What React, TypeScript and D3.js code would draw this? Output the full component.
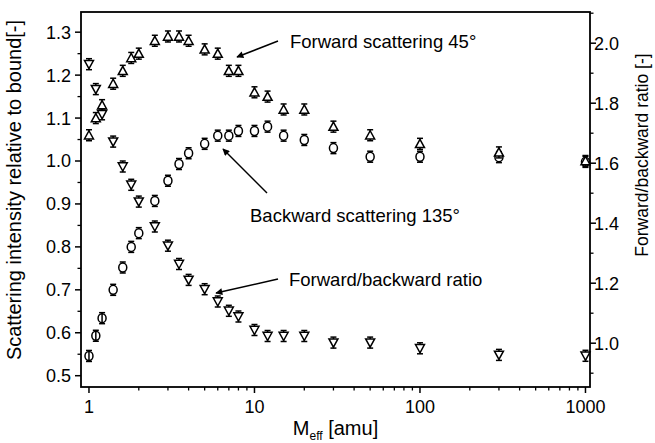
import { useRef, useEffect } from "react";
import * as d3 from "d3";

// effective mass [amu]
const masses = [1, 1.1, 1.2, 1.4, 1.6, 1.8, 2, 2.5, 3, 3.5, 4, 5, 6, 7, 8, 10, 12, 15, 20, 30, 50, 100, 300, 1000];
// forward scattering 45 deg (left axis)
const forward45 = [1.06, 1.10, 1.13, 1.18, 1.21, 1.24, 1.25, 1.28, 1.29, 1.29, 1.28, 1.26, 1.25, 1.21, 1.21, 1.16, 1.15, 1.12, 1.12, 1.08, 1.06, 1.04, 1.02, 1.0];
// backward scattering 135 deg (left axis)
const backward135 = [0.546, 0.593, 0.634, 0.70, 0.752, 0.80, 0.832, 0.907, 0.954, 0.993, 1.018, 1.04, 1.059, 1.059, 1.07, 1.07, 1.08, 1.059, 1.049, 1.03, 1.01, 1.01, 1.009, 0.998];
// forward/backward ratio (right axis)
const ratio = [1.93, 1.847, 1.763, 1.672, 1.589, 1.528, 1.472, 1.389, 1.325, 1.264, 1.211, 1.18, 1.139, 1.108, 1.089, 1.044, 1.024, 1.024, 1.024, 1.002, 1.002, 0.983, 0.961, 0.958];

const xTicks = [1, 10, 100, 1000];
const leftTicks = [0.5, 0.6, 0.7, 0.8, 0.9, 1.0, 1.1, 1.2, 1.3];
const rightTicks = [1.0, 1.2, 1.4, 1.6, 1.8, 2.0];

const annotations = [
  { text: "Forward scattering 45°", tx: 290, ty: 48, from: [278, 41], to: [237, 57] },
  { text: "Backward scattering 135°", tx: 250, ty: 221.5, from: [267, 193], to: [223, 149] },
  { text: "Forward/backward ratio", tx: 289, ty: 286, from: [278, 279], to: [216, 293] },
];

const FONT = "'Liberation Sans', Arial, sans-serif";

export default function App() {
  const svgRef = useRef<SVGSVGElement>(null);

  useEffect(() => {
    const width = 655;
    const height = 443;
    const plot = { left: 81, right: 590, top: 12, bottom: 387 };

    const svg = d3.select(svgRef.current)
      .attr("width", width)
      .attr("height", height)
      .style("position", "absolute")
      .style("left", 0)
      .style("top", 0)
      .style("background", "#fff")
      .style("font-family", FONT);
    svg.selectAll("*").remove();

    const x = d3.scaleLog().domain([0.895, 1065]).range([plot.left, plot.right]);
    const yL = d3.scaleLinear().domain([0.4737, 1.347]).range([plot.bottom, plot.top]);
    const yR = d3.scaleLinear().domain([0.854, 2.104]).range([plot.bottom, plot.top]);

    svg.append("defs").append("marker")
      .attr("id", "head")
      .attr("viewBox", "0 0 10 10")
      .attr("refX", 9).attr("refY", 5)
      .attr("markerWidth", 10).attr("markerHeight", 7)
      .attr("markerUnits", "userSpaceOnUse")
      .attr("orient", "auto")
      .append("path").attr("d", "M0,0 L10,5 L0,10 z").attr("fill", "#000");

    // frame
    svg.append("rect")
      .attr("x", plot.left).attr("y", plot.top)
      .attr("width", plot.right - plot.left).attr("height", plot.bottom - plot.top)
      .attr("fill", "none").attr("stroke", "#000").attr("stroke-width", 1.8);

    // bottom axis
    const minorX: number[] = [];
    for (let d = 1; d <= 1000; d *= 10) for (let k = 2; k <= 9; k++) if (d * k < 1065) minorX.push(d * k);
    svg.append("g").selectAll("line").data(minorX).join("line")
      .attr("x1", d => x(d)).attr("x2", d => x(d))
      .attr("y1", plot.bottom).attr("y2", plot.bottom + 3.5)
      .attr("stroke", "#000").attr("stroke-width", 1.3);
    svg.append("g").selectAll("line").data(xTicks).join("line")
      .attr("x1", d => x(d)).attr("x2", d => x(d))
      .attr("y1", plot.bottom).attr("y2", plot.bottom + 6)
      .attr("stroke", "#000").attr("stroke-width", 1.5);
    svg.append("g").selectAll("text").data(xTicks).join("text")
      .attr("x", d => x(d)).attr("y", 413)
      .attr("text-anchor", "middle").attr("font-size", 18)
      .text(d => String(d));

    // left axis
    const minorL = d3.range(0.55, 1.35, 0.1);
    svg.append("g").selectAll("line").data(minorL).join("line")
      .attr("x1", plot.left - 3.5).attr("x2", plot.left)
      .attr("y1", d => yL(d)).attr("y2", d => yL(d))
      .attr("stroke", "#000").attr("stroke-width", 1.3);
    svg.append("g").selectAll("line").data(leftTicks).join("line")
      .attr("x1", plot.left - 6).attr("x2", plot.left)
      .attr("y1", d => yL(d)).attr("y2", d => yL(d))
      .attr("stroke", "#000").attr("stroke-width", 1.5);
    svg.append("g").selectAll("text").data(leftTicks).join("text")
      .attr("x", 71).attr("y", d => yL(d)).attr("dy", "0.36em")
      .attr("text-anchor", "end").attr("font-size", 18)
      .text(d => d.toFixed(1));

    // right axis
    const minorR = d3.range(0.9, 2.1, 0.2);
    svg.append("g").selectAll("line").data(minorR).join("line")
      .attr("x1", plot.right).attr("x2", plot.right + 3.5)
      .attr("y1", d => yR(d)).attr("y2", d => yR(d))
      .attr("stroke", "#000").attr("stroke-width", 1.3);
    svg.append("g").selectAll("line").data(rightTicks).join("line")
      .attr("x1", plot.right).attr("x2", plot.right + 6)
      .attr("y1", d => yR(d)).attr("y2", d => yR(d))
      .attr("stroke", "#000").attr("stroke-width", 1.5);
    svg.append("g").selectAll("text").data(rightTicks).join("text")
      .attr("x", 594).attr("y", d => yR(d)).attr("dy", "0.36em")
      .attr("text-anchor", "start").attr("font-size", 18)
      .text(d => d.toFixed(1));

    // axis titles
    svg.append("text")
      .attr("transform", `translate(21,190) rotate(-90)`)
      .attr("text-anchor", "middle").attr("font-size", 20)
      .text("Scattering intensity relative to bound[-]");
    svg.append("text")
      .attr("transform", `translate(648,155) rotate(-90)`)
      .attr("text-anchor", "middle").attr("font-size", 17.5)
      .text("Forward/backward ratio [-]");
    const xt = svg.append("text")
      .attr("x", (plot.left + plot.right) / 2).attr("y", 435)
      .attr("text-anchor", "middle").attr("font-size", 20);
    xt.append("tspan").text("M");
    xt.append("tspan").attr("font-size", 12).attr("dy", 5).text("eff");
    xt.append("tspan").attr("dy", -5).text(" [amu]");

    // markers with small error bars
    const errBar = (g: any, y: number) => {
      g.append("line").attr("x1", 0).attr("x2", 0).attr("y1", -y).attr("y2", y);
      g.append("line").attr("x1", -3).attr("x2", 3).attr("y1", -y).attr("y2", -y);
      g.append("line").attr("x1", -3).attr("x2", 3).attr("y1", y).attr("y2", y);
    };

    const drawSeries = (values: number[], yScale: any, shape: string) => {
      const g = svg.append("g").attr("stroke", "#000").attr("stroke-width", 1.5).attr("fill", "#fff");
      masses.forEach((m, i) => {
        const p = g.append("g").attr("transform", `translate(${x(m)},${yScale(values[i])})`);
        errBar(p, 5.5);
        if (shape === "up") p.append("path").attr("d", "M0,-4.5 L4.5,3.7 L-4.5,3.7 Z");
        else if (shape === "down") p.append("path").attr("d", "M0,4.5 L4.5,-3.7 L-4.5,-3.7 Z");
        else p.append("ellipse").attr("rx", 4).attr("ry", 4.5).attr("fill", i < 3 ? "none" : "#fff");
      });
    };

    drawSeries(backward135, yL, "circle");
    drawSeries(forward45, yL, "up");
    drawSeries(ratio, yR, "down");

    // annotations
    annotations.forEach(a => {
      svg.append("line")
        .attr("x1", a.from[0]).attr("y1", a.from[1])
        .attr("x2", a.to[0]).attr("y2", a.to[1])
        .attr("stroke", "#000").attr("stroke-width", 1.5)
        .attr("marker-end", "url(#head)");
      svg.append("text")
        .attr("x", a.tx).attr("y", a.ty)
        .attr("font-size", 18.5)
        .text(a.text);
    });
  }, []);

  return <svg ref={svgRef}></svg>;
}
